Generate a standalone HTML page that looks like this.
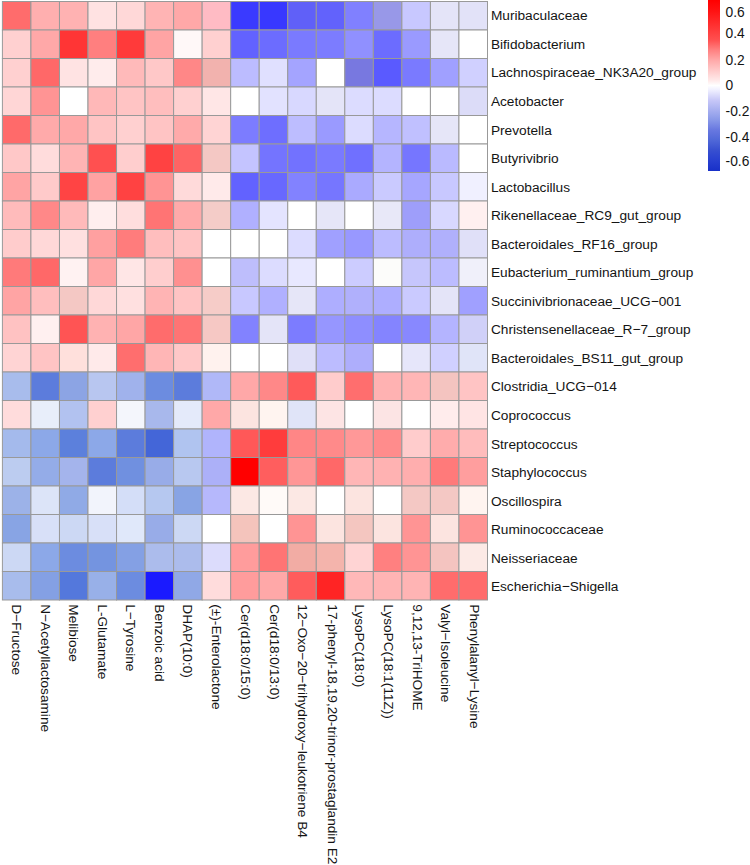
<!DOCTYPE html><html><head><meta charset="utf-8"><style>html,body{margin:0;padding:0;background:#fff;width:750px;height:865px;overflow:hidden}svg{display:block}text{font-family:"Liberation Sans",sans-serif;font-size:13.7px;fill:#141414}</style></head><body>
<svg width="750" height="865" viewBox="0 0 750 865">
<defs><linearGradient id="lg" x1="0" y1="0" x2="0" y2="1"><stop offset="0" stop-color="#FF0000"/><stop offset="0.058" stop-color="#FF1010"/><stop offset="0.146" stop-color="#FF3030"/><stop offset="0.234" stop-color="#FF5050"/><stop offset="0.292" stop-color="#FF8080"/><stop offset="0.351" stop-color="#FFA8A8"/><stop offset="0.409" stop-color="#FFC8C8"/><stop offset="0.468" stop-color="#FFE8E8"/><stop offset="0.5" stop-color="#FFFFFF"/><stop offset="0.526" stop-color="#F0F0FF"/><stop offset="0.585" stop-color="#C8C8F8"/><stop offset="0.643" stop-color="#A8B0F0"/><stop offset="0.702" stop-color="#8898E8"/><stop offset="0.76" stop-color="#6878E0"/><stop offset="0.819" stop-color="#5068D8"/><stop offset="0.877" stop-color="#3850D0"/><stop offset="0.936" stop-color="#2840D0"/><stop offset="1" stop-color="#1830C8"/></linearGradient></defs>
<rect x="2.40" y="1.50" width="28.535" height="28.500" fill="#FF6C6C" stroke="#999" stroke-width="1"/>
<rect x="30.93" y="1.50" width="28.535" height="28.500" fill="#FFAFAF" stroke="#999" stroke-width="1"/>
<rect x="59.47" y="1.50" width="28.535" height="28.500" fill="#FFB2B2" stroke="#999" stroke-width="1"/>
<rect x="88.01" y="1.50" width="28.535" height="28.500" fill="#FFE2E2" stroke="#999" stroke-width="1"/>
<rect x="116.54" y="1.50" width="28.535" height="28.500" fill="#FFD8D8" stroke="#999" stroke-width="1"/>
<rect x="145.08" y="1.50" width="28.535" height="28.500" fill="#FFB4B4" stroke="#999" stroke-width="1"/>
<rect x="173.61" y="1.50" width="28.535" height="28.500" fill="#FFA8A8" stroke="#999" stroke-width="1"/>
<rect x="202.15" y="1.50" width="28.535" height="28.500" fill="#FFBBC4" stroke="#999" stroke-width="1"/>
<rect x="230.68" y="1.50" width="28.535" height="28.500" fill="#3A3AFF" stroke="#999" stroke-width="1"/>
<rect x="259.21" y="1.50" width="28.535" height="28.500" fill="#3838FF" stroke="#999" stroke-width="1"/>
<rect x="287.75" y="1.50" width="28.535" height="28.500" fill="#6060F8" stroke="#999" stroke-width="1"/>
<rect x="316.28" y="1.50" width="28.535" height="28.500" fill="#6262FC" stroke="#999" stroke-width="1"/>
<rect x="344.82" y="1.50" width="28.535" height="28.500" fill="#8080FF" stroke="#999" stroke-width="1"/>
<rect x="373.35" y="1.50" width="28.535" height="28.500" fill="#9898E8" stroke="#999" stroke-width="1"/>
<rect x="401.89" y="1.50" width="28.535" height="28.500" fill="#C8C8FF" stroke="#999" stroke-width="1"/>
<rect x="430.42" y="1.50" width="28.535" height="28.500" fill="#E4E4F8" stroke="#999" stroke-width="1"/>
<rect x="458.96" y="1.50" width="28.535" height="28.500" fill="#E2E2F8" stroke="#999" stroke-width="1"/>
<rect x="2.40" y="30.00" width="28.535" height="28.500" fill="#FFD0D0" stroke="#999" stroke-width="1"/>
<rect x="30.93" y="30.00" width="28.535" height="28.500" fill="#FFA8A8" stroke="#999" stroke-width="1"/>
<rect x="59.47" y="30.00" width="28.535" height="28.500" fill="#FF3535" stroke="#999" stroke-width="1"/>
<rect x="88.01" y="30.00" width="28.535" height="28.500" fill="#FF7F7F" stroke="#999" stroke-width="1"/>
<rect x="116.54" y="30.00" width="28.535" height="28.500" fill="#FF3A3A" stroke="#999" stroke-width="1"/>
<rect x="145.08" y="30.00" width="28.535" height="28.500" fill="#FFA4A4" stroke="#999" stroke-width="1"/>
<rect x="173.61" y="30.00" width="28.535" height="28.500" fill="#FFF8F8" stroke="#999" stroke-width="1"/>
<rect x="202.15" y="30.00" width="28.535" height="28.500" fill="#FFD0D0" stroke="#999" stroke-width="1"/>
<rect x="230.68" y="30.00" width="28.535" height="28.500" fill="#6262FF" stroke="#999" stroke-width="1"/>
<rect x="259.21" y="30.00" width="28.535" height="28.500" fill="#6C6CFF" stroke="#999" stroke-width="1"/>
<rect x="287.75" y="30.00" width="28.535" height="28.500" fill="#7A7AFF" stroke="#999" stroke-width="1"/>
<rect x="316.28" y="30.00" width="28.535" height="28.500" fill="#7C7CFF" stroke="#999" stroke-width="1"/>
<rect x="344.82" y="30.00" width="28.535" height="28.500" fill="#9090FF" stroke="#999" stroke-width="1"/>
<rect x="373.35" y="30.00" width="28.535" height="28.500" fill="#6C6CFF" stroke="#999" stroke-width="1"/>
<rect x="401.89" y="30.00" width="28.535" height="28.500" fill="#9A9AFF" stroke="#999" stroke-width="1"/>
<rect x="430.42" y="30.00" width="28.535" height="28.500" fill="#E6E6F8" stroke="#999" stroke-width="1"/>
<rect x="458.96" y="30.00" width="28.535" height="28.500" fill="#FFFFFF" stroke="#999" stroke-width="1"/>
<rect x="2.40" y="58.50" width="28.535" height="28.500" fill="#FFD0D0" stroke="#999" stroke-width="1"/>
<rect x="30.93" y="58.50" width="28.535" height="28.500" fill="#FF6868" stroke="#999" stroke-width="1"/>
<rect x="59.47" y="58.50" width="28.535" height="28.500" fill="#FFE3E3" stroke="#999" stroke-width="1"/>
<rect x="88.01" y="58.50" width="28.535" height="28.500" fill="#FFECEC" stroke="#999" stroke-width="1"/>
<rect x="116.54" y="58.50" width="28.535" height="28.500" fill="#FFBABA" stroke="#999" stroke-width="1"/>
<rect x="145.08" y="58.50" width="28.535" height="28.500" fill="#FFC8C8" stroke="#999" stroke-width="1"/>
<rect x="173.61" y="58.50" width="28.535" height="28.500" fill="#FF8787" stroke="#999" stroke-width="1"/>
<rect x="202.15" y="58.50" width="28.535" height="28.500" fill="#F2B2AE" stroke="#999" stroke-width="1"/>
<rect x="230.68" y="58.50" width="28.535" height="28.500" fill="#BCBCFF" stroke="#999" stroke-width="1"/>
<rect x="259.21" y="58.50" width="28.535" height="28.500" fill="#E0E0FF" stroke="#999" stroke-width="1"/>
<rect x="287.75" y="58.50" width="28.535" height="28.500" fill="#A4A4FF" stroke="#999" stroke-width="1"/>
<rect x="316.28" y="58.50" width="28.535" height="28.500" fill="#FFFFFF" stroke="#999" stroke-width="1"/>
<rect x="344.82" y="58.50" width="28.535" height="28.500" fill="#7878E0" stroke="#999" stroke-width="1"/>
<rect x="373.35" y="58.50" width="28.535" height="28.500" fill="#5A5AFF" stroke="#999" stroke-width="1"/>
<rect x="401.89" y="58.50" width="28.535" height="28.500" fill="#7A7AFF" stroke="#999" stroke-width="1"/>
<rect x="430.42" y="58.50" width="28.535" height="28.500" fill="#A0A0FF" stroke="#999" stroke-width="1"/>
<rect x="458.96" y="58.50" width="28.535" height="28.500" fill="#D0D0FF" stroke="#999" stroke-width="1"/>
<rect x="2.40" y="87.00" width="28.535" height="28.500" fill="#FFD6D6" stroke="#999" stroke-width="1"/>
<rect x="30.93" y="87.00" width="28.535" height="28.500" fill="#FF9494" stroke="#999" stroke-width="1"/>
<rect x="59.47" y="87.00" width="28.535" height="28.500" fill="#FFFFFF" stroke="#999" stroke-width="1"/>
<rect x="88.01" y="87.00" width="28.535" height="28.500" fill="#FFB8B8" stroke="#999" stroke-width="1"/>
<rect x="116.54" y="87.00" width="28.535" height="28.500" fill="#FFC4C4" stroke="#999" stroke-width="1"/>
<rect x="145.08" y="87.00" width="28.535" height="28.500" fill="#FFBEBE" stroke="#999" stroke-width="1"/>
<rect x="173.61" y="87.00" width="28.535" height="28.500" fill="#FFD0D0" stroke="#999" stroke-width="1"/>
<rect x="202.15" y="87.00" width="28.535" height="28.500" fill="#FFE6E6" stroke="#999" stroke-width="1"/>
<rect x="230.68" y="87.00" width="28.535" height="28.500" fill="#FFFFFF" stroke="#999" stroke-width="1"/>
<rect x="259.21" y="87.00" width="28.535" height="28.500" fill="#E2E2FF" stroke="#999" stroke-width="1"/>
<rect x="287.75" y="87.00" width="28.535" height="28.500" fill="#D8D8FF" stroke="#999" stroke-width="1"/>
<rect x="316.28" y="87.00" width="28.535" height="28.500" fill="#E4E4F8" stroke="#999" stroke-width="1"/>
<rect x="344.82" y="87.00" width="28.535" height="28.500" fill="#DCDCFF" stroke="#999" stroke-width="1"/>
<rect x="373.35" y="87.00" width="28.535" height="28.500" fill="#DCDCFF" stroke="#999" stroke-width="1"/>
<rect x="401.89" y="87.00" width="28.535" height="28.500" fill="#FFFFFF" stroke="#999" stroke-width="1"/>
<rect x="430.42" y="87.00" width="28.535" height="28.500" fill="#FFFFFF" stroke="#999" stroke-width="1"/>
<rect x="458.96" y="87.00" width="28.535" height="28.500" fill="#DCDCF8" stroke="#999" stroke-width="1"/>
<rect x="2.40" y="115.50" width="28.535" height="28.500" fill="#FF6A6A" stroke="#999" stroke-width="1"/>
<rect x="30.93" y="115.50" width="28.535" height="28.500" fill="#FFAAAA" stroke="#999" stroke-width="1"/>
<rect x="59.47" y="115.50" width="28.535" height="28.500" fill="#FFA8A8" stroke="#999" stroke-width="1"/>
<rect x="88.01" y="115.50" width="28.535" height="28.500" fill="#FFC4C4" stroke="#999" stroke-width="1"/>
<rect x="116.54" y="115.50" width="28.535" height="28.500" fill="#FFD0D0" stroke="#999" stroke-width="1"/>
<rect x="145.08" y="115.50" width="28.535" height="28.500" fill="#FFC4C4" stroke="#999" stroke-width="1"/>
<rect x="173.61" y="115.50" width="28.535" height="28.500" fill="#FFAAAA" stroke="#999" stroke-width="1"/>
<rect x="202.15" y="115.50" width="28.535" height="28.500" fill="#FFD4D4" stroke="#999" stroke-width="1"/>
<rect x="230.68" y="115.50" width="28.535" height="28.500" fill="#7C7CFF" stroke="#999" stroke-width="1"/>
<rect x="259.21" y="115.50" width="28.535" height="28.500" fill="#6E6EFF" stroke="#999" stroke-width="1"/>
<rect x="287.75" y="115.50" width="28.535" height="28.500" fill="#BDBDFF" stroke="#999" stroke-width="1"/>
<rect x="316.28" y="115.50" width="28.535" height="28.500" fill="#9A9AFF" stroke="#999" stroke-width="1"/>
<rect x="344.82" y="115.50" width="28.535" height="28.500" fill="#DCDCFF" stroke="#999" stroke-width="1"/>
<rect x="373.35" y="115.50" width="28.535" height="28.500" fill="#B6B6FF" stroke="#999" stroke-width="1"/>
<rect x="401.89" y="115.50" width="28.535" height="28.500" fill="#C0C0FF" stroke="#999" stroke-width="1"/>
<rect x="430.42" y="115.50" width="28.535" height="28.500" fill="#E6E6F8" stroke="#999" stroke-width="1"/>
<rect x="458.96" y="115.50" width="28.535" height="28.500" fill="#FFFFFF" stroke="#999" stroke-width="1"/>
<rect x="2.40" y="144.00" width="28.535" height="28.500" fill="#FFC8C8" stroke="#999" stroke-width="1"/>
<rect x="30.93" y="144.00" width="28.535" height="28.500" fill="#FFDCDC" stroke="#999" stroke-width="1"/>
<rect x="59.47" y="144.00" width="28.535" height="28.500" fill="#FFB4B4" stroke="#999" stroke-width="1"/>
<rect x="88.01" y="144.00" width="28.535" height="28.500" fill="#FF5050" stroke="#999" stroke-width="1"/>
<rect x="116.54" y="144.00" width="28.535" height="28.500" fill="#FFCECE" stroke="#999" stroke-width="1"/>
<rect x="145.08" y="144.00" width="28.535" height="28.500" fill="#FF4242" stroke="#999" stroke-width="1"/>
<rect x="173.61" y="144.00" width="28.535" height="28.500" fill="#FF6464" stroke="#999" stroke-width="1"/>
<rect x="202.15" y="144.00" width="28.535" height="28.500" fill="#F4C8C4" stroke="#999" stroke-width="1"/>
<rect x="230.68" y="144.00" width="28.535" height="28.500" fill="#C4C4FF" stroke="#999" stroke-width="1"/>
<rect x="259.21" y="144.00" width="28.535" height="28.500" fill="#7474FF" stroke="#999" stroke-width="1"/>
<rect x="287.75" y="144.00" width="28.535" height="28.500" fill="#7272FF" stroke="#999" stroke-width="1"/>
<rect x="316.28" y="144.00" width="28.535" height="28.500" fill="#7A7AFF" stroke="#999" stroke-width="1"/>
<rect x="344.82" y="144.00" width="28.535" height="28.500" fill="#7070FF" stroke="#999" stroke-width="1"/>
<rect x="373.35" y="144.00" width="28.535" height="28.500" fill="#B4B4FF" stroke="#999" stroke-width="1"/>
<rect x="401.89" y="144.00" width="28.535" height="28.500" fill="#7676FF" stroke="#999" stroke-width="1"/>
<rect x="430.42" y="144.00" width="28.535" height="28.500" fill="#BABAFF" stroke="#999" stroke-width="1"/>
<rect x="458.96" y="144.00" width="28.535" height="28.500" fill="#FFFFFF" stroke="#999" stroke-width="1"/>
<rect x="2.40" y="172.50" width="28.535" height="28.500" fill="#FFA4A4" stroke="#999" stroke-width="1"/>
<rect x="30.93" y="172.50" width="28.535" height="28.500" fill="#FFCACA" stroke="#999" stroke-width="1"/>
<rect x="59.47" y="172.50" width="28.535" height="28.500" fill="#FF4444" stroke="#999" stroke-width="1"/>
<rect x="88.01" y="172.50" width="28.535" height="28.500" fill="#FFA2A2" stroke="#999" stroke-width="1"/>
<rect x="116.54" y="172.50" width="28.535" height="28.500" fill="#FF4242" stroke="#999" stroke-width="1"/>
<rect x="145.08" y="172.50" width="28.535" height="28.500" fill="#FF9494" stroke="#999" stroke-width="1"/>
<rect x="173.61" y="172.50" width="28.535" height="28.500" fill="#FFDADA" stroke="#999" stroke-width="1"/>
<rect x="202.15" y="172.50" width="28.535" height="28.500" fill="#FFEAEA" stroke="#999" stroke-width="1"/>
<rect x="230.68" y="172.50" width="28.535" height="28.500" fill="#6262FF" stroke="#999" stroke-width="1"/>
<rect x="259.21" y="172.50" width="28.535" height="28.500" fill="#6868FF" stroke="#999" stroke-width="1"/>
<rect x="287.75" y="172.50" width="28.535" height="28.500" fill="#8282FF" stroke="#999" stroke-width="1"/>
<rect x="316.28" y="172.50" width="28.535" height="28.500" fill="#7676FF" stroke="#999" stroke-width="1"/>
<rect x="344.82" y="172.50" width="28.535" height="28.500" fill="#AAAAFF" stroke="#999" stroke-width="1"/>
<rect x="373.35" y="172.50" width="28.535" height="28.500" fill="#CACAFF" stroke="#999" stroke-width="1"/>
<rect x="401.89" y="172.50" width="28.535" height="28.500" fill="#A6A6FF" stroke="#999" stroke-width="1"/>
<rect x="430.42" y="172.50" width="28.535" height="28.500" fill="#C8C8FF" stroke="#999" stroke-width="1"/>
<rect x="458.96" y="172.50" width="28.535" height="28.500" fill="#F0F0FF" stroke="#999" stroke-width="1"/>
<rect x="2.40" y="201.00" width="28.535" height="28.500" fill="#FFBBBB" stroke="#999" stroke-width="1"/>
<rect x="30.93" y="201.00" width="28.535" height="28.500" fill="#FF8888" stroke="#999" stroke-width="1"/>
<rect x="59.47" y="201.00" width="28.535" height="28.500" fill="#FFBABA" stroke="#999" stroke-width="1"/>
<rect x="88.01" y="201.00" width="28.535" height="28.500" fill="#FFEEEE" stroke="#999" stroke-width="1"/>
<rect x="116.54" y="201.00" width="28.535" height="28.500" fill="#FFDEDE" stroke="#999" stroke-width="1"/>
<rect x="145.08" y="201.00" width="28.535" height="28.500" fill="#FF7474" stroke="#999" stroke-width="1"/>
<rect x="173.61" y="201.00" width="28.535" height="28.500" fill="#FFAAAA" stroke="#999" stroke-width="1"/>
<rect x="202.15" y="201.00" width="28.535" height="28.500" fill="#F4CCC8" stroke="#999" stroke-width="1"/>
<rect x="230.68" y="201.00" width="28.535" height="28.500" fill="#B0B0FF" stroke="#999" stroke-width="1"/>
<rect x="259.21" y="201.00" width="28.535" height="28.500" fill="#E4E4FF" stroke="#999" stroke-width="1"/>
<rect x="287.75" y="201.00" width="28.535" height="28.500" fill="#FFFFFF" stroke="#999" stroke-width="1"/>
<rect x="316.28" y="201.00" width="28.535" height="28.500" fill="#E6E6F8" stroke="#999" stroke-width="1"/>
<rect x="344.82" y="201.00" width="28.535" height="28.500" fill="#FFFFFF" stroke="#999" stroke-width="1"/>
<rect x="373.35" y="201.00" width="28.535" height="28.500" fill="#E8E8F8" stroke="#999" stroke-width="1"/>
<rect x="401.89" y="201.00" width="28.535" height="28.500" fill="#9E9EFA" stroke="#999" stroke-width="1"/>
<rect x="430.42" y="201.00" width="28.535" height="28.500" fill="#D8D8FF" stroke="#999" stroke-width="1"/>
<rect x="458.96" y="201.00" width="28.535" height="28.500" fill="#FFF0F0" stroke="#999" stroke-width="1"/>
<rect x="2.40" y="229.50" width="28.535" height="28.500" fill="#FFCCCC" stroke="#999" stroke-width="1"/>
<rect x="30.93" y="229.50" width="28.535" height="28.500" fill="#FFD8D8" stroke="#999" stroke-width="1"/>
<rect x="59.47" y="229.50" width="28.535" height="28.500" fill="#FFE0E0" stroke="#999" stroke-width="1"/>
<rect x="88.01" y="229.50" width="28.535" height="28.500" fill="#FFA0A0" stroke="#999" stroke-width="1"/>
<rect x="116.54" y="229.50" width="28.535" height="28.500" fill="#FF7C7C" stroke="#999" stroke-width="1"/>
<rect x="145.08" y="229.50" width="28.535" height="28.500" fill="#FFBEBE" stroke="#999" stroke-width="1"/>
<rect x="173.61" y="229.50" width="28.535" height="28.500" fill="#FFC4C4" stroke="#999" stroke-width="1"/>
<rect x="202.15" y="229.50" width="28.535" height="28.500" fill="#FFFFFF" stroke="#999" stroke-width="1"/>
<rect x="230.68" y="229.50" width="28.535" height="28.500" fill="#FFFFFF" stroke="#999" stroke-width="1"/>
<rect x="259.21" y="229.50" width="28.535" height="28.500" fill="#FFFFFF" stroke="#999" stroke-width="1"/>
<rect x="287.75" y="229.50" width="28.535" height="28.500" fill="#DCDCFF" stroke="#999" stroke-width="1"/>
<rect x="316.28" y="229.50" width="28.535" height="28.500" fill="#A0A0FF" stroke="#999" stroke-width="1"/>
<rect x="344.82" y="229.50" width="28.535" height="28.500" fill="#9898FF" stroke="#999" stroke-width="1"/>
<rect x="373.35" y="229.50" width="28.535" height="28.500" fill="#BCBCFF" stroke="#999" stroke-width="1"/>
<rect x="401.89" y="229.50" width="28.535" height="28.500" fill="#AEAEFC" stroke="#999" stroke-width="1"/>
<rect x="430.42" y="229.50" width="28.535" height="28.500" fill="#B0B0FC" stroke="#999" stroke-width="1"/>
<rect x="458.96" y="229.50" width="28.535" height="28.500" fill="#E0E0F8" stroke="#999" stroke-width="1"/>
<rect x="2.40" y="258.00" width="28.535" height="28.500" fill="#FF7A7A" stroke="#999" stroke-width="1"/>
<rect x="30.93" y="258.00" width="28.535" height="28.500" fill="#FF6868" stroke="#999" stroke-width="1"/>
<rect x="59.47" y="258.00" width="28.535" height="28.500" fill="#FFF2F2" stroke="#999" stroke-width="1"/>
<rect x="88.01" y="258.00" width="28.535" height="28.500" fill="#FFA6A6" stroke="#999" stroke-width="1"/>
<rect x="116.54" y="258.00" width="28.535" height="28.500" fill="#FFE6E6" stroke="#999" stroke-width="1"/>
<rect x="145.08" y="258.00" width="28.535" height="28.500" fill="#FFCECE" stroke="#999" stroke-width="1"/>
<rect x="173.61" y="258.00" width="28.535" height="28.500" fill="#FF9090" stroke="#999" stroke-width="1"/>
<rect x="202.15" y="258.00" width="28.535" height="28.500" fill="#FFFFFF" stroke="#999" stroke-width="1"/>
<rect x="230.68" y="258.00" width="28.535" height="28.500" fill="#BEBEFC" stroke="#999" stroke-width="1"/>
<rect x="259.21" y="258.00" width="28.535" height="28.500" fill="#DCDCFF" stroke="#999" stroke-width="1"/>
<rect x="287.75" y="258.00" width="28.535" height="28.500" fill="#E8E8FF" stroke="#999" stroke-width="1"/>
<rect x="316.28" y="258.00" width="28.535" height="28.500" fill="#FFFFFF" stroke="#999" stroke-width="1"/>
<rect x="344.82" y="258.00" width="28.535" height="28.500" fill="#CCCCFF" stroke="#999" stroke-width="1"/>
<rect x="373.35" y="258.00" width="28.535" height="28.500" fill="#FCFCFA" stroke="#999" stroke-width="1"/>
<rect x="401.89" y="258.00" width="28.535" height="28.500" fill="#C6C6FC" stroke="#999" stroke-width="1"/>
<rect x="430.42" y="258.00" width="28.535" height="28.500" fill="#BCBCFF" stroke="#999" stroke-width="1"/>
<rect x="458.96" y="258.00" width="28.535" height="28.500" fill="#F0F0FA" stroke="#999" stroke-width="1"/>
<rect x="2.40" y="286.50" width="28.535" height="28.500" fill="#FFA4A4" stroke="#999" stroke-width="1"/>
<rect x="30.93" y="286.50" width="28.535" height="28.500" fill="#FFBEBE" stroke="#999" stroke-width="1"/>
<rect x="59.47" y="286.50" width="28.535" height="28.500" fill="#F4C8C4" stroke="#999" stroke-width="1"/>
<rect x="88.01" y="286.50" width="28.535" height="28.500" fill="#FFD8D8" stroke="#999" stroke-width="1"/>
<rect x="116.54" y="286.50" width="28.535" height="28.500" fill="#FFE0E0" stroke="#999" stroke-width="1"/>
<rect x="145.08" y="286.50" width="28.535" height="28.500" fill="#FFB4B4" stroke="#999" stroke-width="1"/>
<rect x="173.61" y="286.50" width="28.535" height="28.500" fill="#FFC4C4" stroke="#999" stroke-width="1"/>
<rect x="202.15" y="286.50" width="28.535" height="28.500" fill="#F6CCC8" stroke="#999" stroke-width="1"/>
<rect x="230.68" y="286.50" width="28.535" height="28.500" fill="#C8C8FF" stroke="#999" stroke-width="1"/>
<rect x="259.21" y="286.50" width="28.535" height="28.500" fill="#B0B0FF" stroke="#999" stroke-width="1"/>
<rect x="287.75" y="286.50" width="28.535" height="28.500" fill="#E6E6F8" stroke="#999" stroke-width="1"/>
<rect x="316.28" y="286.50" width="28.535" height="28.500" fill="#AEAEFF" stroke="#999" stroke-width="1"/>
<rect x="344.82" y="286.50" width="28.535" height="28.500" fill="#B0B0FC" stroke="#999" stroke-width="1"/>
<rect x="373.35" y="286.50" width="28.535" height="28.500" fill="#AEAEFF" stroke="#999" stroke-width="1"/>
<rect x="401.89" y="286.50" width="28.535" height="28.500" fill="#CACAFF" stroke="#999" stroke-width="1"/>
<rect x="430.42" y="286.50" width="28.535" height="28.500" fill="#E4E4F8" stroke="#999" stroke-width="1"/>
<rect x="458.96" y="286.50" width="28.535" height="28.500" fill="#A0A0FF" stroke="#999" stroke-width="1"/>
<rect x="2.40" y="315.00" width="28.535" height="28.500" fill="#FFC2C2" stroke="#999" stroke-width="1"/>
<rect x="30.93" y="315.00" width="28.535" height="28.500" fill="#FFF0F0" stroke="#999" stroke-width="1"/>
<rect x="59.47" y="315.00" width="28.535" height="28.500" fill="#FF5454" stroke="#999" stroke-width="1"/>
<rect x="88.01" y="315.00" width="28.535" height="28.500" fill="#FFB2B2" stroke="#999" stroke-width="1"/>
<rect x="116.54" y="315.00" width="28.535" height="28.500" fill="#FFA6A6" stroke="#999" stroke-width="1"/>
<rect x="145.08" y="315.00" width="28.535" height="28.500" fill="#FF6C6C" stroke="#999" stroke-width="1"/>
<rect x="173.61" y="315.00" width="28.535" height="28.500" fill="#FF7474" stroke="#999" stroke-width="1"/>
<rect x="202.15" y="315.00" width="28.535" height="28.500" fill="#F6C8C4" stroke="#999" stroke-width="1"/>
<rect x="230.68" y="315.00" width="28.535" height="28.500" fill="#8282FF" stroke="#999" stroke-width="1"/>
<rect x="259.21" y="315.00" width="28.535" height="28.500" fill="#E4E4F8" stroke="#999" stroke-width="1"/>
<rect x="287.75" y="315.00" width="28.535" height="28.500" fill="#7C7CFF" stroke="#999" stroke-width="1"/>
<rect x="316.28" y="315.00" width="28.535" height="28.500" fill="#9696FF" stroke="#999" stroke-width="1"/>
<rect x="344.82" y="315.00" width="28.535" height="28.500" fill="#8E8EFF" stroke="#999" stroke-width="1"/>
<rect x="373.35" y="315.00" width="28.535" height="28.500" fill="#8484FF" stroke="#999" stroke-width="1"/>
<rect x="401.89" y="315.00" width="28.535" height="28.500" fill="#8888FF" stroke="#999" stroke-width="1"/>
<rect x="430.42" y="315.00" width="28.535" height="28.500" fill="#B4B4FF" stroke="#999" stroke-width="1"/>
<rect x="458.96" y="315.00" width="28.535" height="28.500" fill="#D0D0F8" stroke="#999" stroke-width="1"/>
<rect x="2.40" y="343.50" width="28.535" height="28.500" fill="#FFD4D4" stroke="#999" stroke-width="1"/>
<rect x="30.93" y="343.50" width="28.535" height="28.500" fill="#FFC4C4" stroke="#999" stroke-width="1"/>
<rect x="59.47" y="343.50" width="28.535" height="28.500" fill="#FFE0DC" stroke="#999" stroke-width="1"/>
<rect x="88.01" y="343.50" width="28.535" height="28.500" fill="#FFEAEA" stroke="#999" stroke-width="1"/>
<rect x="116.54" y="343.50" width="28.535" height="28.500" fill="#FF6E6E" stroke="#999" stroke-width="1"/>
<rect x="145.08" y="343.50" width="28.535" height="28.500" fill="#FFB6B6" stroke="#999" stroke-width="1"/>
<rect x="173.61" y="343.50" width="28.535" height="28.500" fill="#FFC8C8" stroke="#999" stroke-width="1"/>
<rect x="202.15" y="343.50" width="28.535" height="28.500" fill="#FFF2EE" stroke="#999" stroke-width="1"/>
<rect x="230.68" y="343.50" width="28.535" height="28.500" fill="#FFFFFF" stroke="#999" stroke-width="1"/>
<rect x="259.21" y="343.50" width="28.535" height="28.500" fill="#FFFFFF" stroke="#999" stroke-width="1"/>
<rect x="287.75" y="343.50" width="28.535" height="28.500" fill="#E0E0F8" stroke="#999" stroke-width="1"/>
<rect x="316.28" y="343.50" width="28.535" height="28.500" fill="#BCBCFF" stroke="#999" stroke-width="1"/>
<rect x="344.82" y="343.50" width="28.535" height="28.500" fill="#AEAEFC" stroke="#999" stroke-width="1"/>
<rect x="373.35" y="343.50" width="28.535" height="28.500" fill="#FFFFFF" stroke="#999" stroke-width="1"/>
<rect x="401.89" y="343.50" width="28.535" height="28.500" fill="#E6E6FA" stroke="#999" stroke-width="1"/>
<rect x="430.42" y="343.50" width="28.535" height="28.500" fill="#D0D0FF" stroke="#999" stroke-width="1"/>
<rect x="458.96" y="343.50" width="28.535" height="28.500" fill="#E0E4F8" stroke="#999" stroke-width="1"/>
<rect x="2.40" y="372.00" width="28.535" height="28.500" fill="#A8BCEC" stroke="#999" stroke-width="1"/>
<rect x="30.93" y="372.00" width="28.535" height="28.500" fill="#5C7CDC" stroke="#999" stroke-width="1"/>
<rect x="59.47" y="372.00" width="28.535" height="28.500" fill="#8CA4E4" stroke="#999" stroke-width="1"/>
<rect x="88.01" y="372.00" width="28.535" height="28.500" fill="#B8C6F0" stroke="#999" stroke-width="1"/>
<rect x="116.54" y="372.00" width="28.535" height="28.500" fill="#A0B2EC" stroke="#999" stroke-width="1"/>
<rect x="145.08" y="372.00" width="28.535" height="28.500" fill="#6C8CE0" stroke="#999" stroke-width="1"/>
<rect x="173.61" y="372.00" width="28.535" height="28.500" fill="#5C7CDC" stroke="#999" stroke-width="1"/>
<rect x="202.15" y="372.00" width="28.535" height="28.500" fill="#B0B8F8" stroke="#999" stroke-width="1"/>
<rect x="230.68" y="372.00" width="28.535" height="28.500" fill="#FFA8A8" stroke="#999" stroke-width="1"/>
<rect x="259.21" y="372.00" width="28.535" height="28.500" fill="#FF8888" stroke="#999" stroke-width="1"/>
<rect x="287.75" y="372.00" width="28.535" height="28.500" fill="#FF5A5A" stroke="#999" stroke-width="1"/>
<rect x="316.28" y="372.00" width="28.535" height="28.500" fill="#FFCCCC" stroke="#999" stroke-width="1"/>
<rect x="344.82" y="372.00" width="28.535" height="28.500" fill="#FF6E6E" stroke="#999" stroke-width="1"/>
<rect x="373.35" y="372.00" width="28.535" height="28.500" fill="#FFB2B2" stroke="#999" stroke-width="1"/>
<rect x="401.89" y="372.00" width="28.535" height="28.500" fill="#FFB6B6" stroke="#999" stroke-width="1"/>
<rect x="430.42" y="372.00" width="28.535" height="28.500" fill="#F4C4C0" stroke="#999" stroke-width="1"/>
<rect x="458.96" y="372.00" width="28.535" height="28.500" fill="#FFC4C4" stroke="#999" stroke-width="1"/>
<rect x="2.40" y="400.50" width="28.535" height="28.500" fill="#FFDCDC" stroke="#999" stroke-width="1"/>
<rect x="30.93" y="400.50" width="28.535" height="28.500" fill="#E8EEFA" stroke="#999" stroke-width="1"/>
<rect x="59.47" y="400.50" width="28.535" height="28.500" fill="#B2C2F0" stroke="#999" stroke-width="1"/>
<rect x="88.01" y="400.50" width="28.535" height="28.500" fill="#FFD0D0" stroke="#999" stroke-width="1"/>
<rect x="116.54" y="400.50" width="28.535" height="28.500" fill="#F4F6FC" stroke="#999" stroke-width="1"/>
<rect x="145.08" y="400.50" width="28.535" height="28.500" fill="#A8B8EC" stroke="#999" stroke-width="1"/>
<rect x="173.61" y="400.50" width="28.535" height="28.500" fill="#E4EAFA" stroke="#999" stroke-width="1"/>
<rect x="202.15" y="400.50" width="28.535" height="28.500" fill="#FFA8A8" stroke="#999" stroke-width="1"/>
<rect x="230.68" y="400.50" width="28.535" height="28.500" fill="#FCE4E0" stroke="#999" stroke-width="1"/>
<rect x="259.21" y="400.50" width="28.535" height="28.500" fill="#FFF4F0" stroke="#999" stroke-width="1"/>
<rect x="287.75" y="400.50" width="28.535" height="28.500" fill="#E0E4F8" stroke="#999" stroke-width="1"/>
<rect x="316.28" y="400.50" width="28.535" height="28.500" fill="#FDE4E4" stroke="#999" stroke-width="1"/>
<rect x="344.82" y="400.50" width="28.535" height="28.500" fill="#FFFFFF" stroke="#999" stroke-width="1"/>
<rect x="373.35" y="400.50" width="28.535" height="28.500" fill="#FCE4E4" stroke="#999" stroke-width="1"/>
<rect x="401.89" y="400.50" width="28.535" height="28.500" fill="#FFFFFF" stroke="#999" stroke-width="1"/>
<rect x="430.42" y="400.50" width="28.535" height="28.500" fill="#FFECEC" stroke="#999" stroke-width="1"/>
<rect x="458.96" y="400.50" width="28.535" height="28.500" fill="#FFE4E4" stroke="#999" stroke-width="1"/>
<rect x="2.40" y="429.00" width="28.535" height="28.500" fill="#A4BAEC" stroke="#999" stroke-width="1"/>
<rect x="30.93" y="429.00" width="28.535" height="28.500" fill="#8CA8E8" stroke="#999" stroke-width="1"/>
<rect x="59.47" y="429.00" width="28.535" height="28.500" fill="#5C80DC" stroke="#999" stroke-width="1"/>
<rect x="88.01" y="429.00" width="28.535" height="28.500" fill="#8CA8E8" stroke="#999" stroke-width="1"/>
<rect x="116.54" y="429.00" width="28.535" height="28.500" fill="#5C7CDC" stroke="#999" stroke-width="1"/>
<rect x="145.08" y="429.00" width="28.535" height="28.500" fill="#4466D8" stroke="#999" stroke-width="1"/>
<rect x="173.61" y="429.00" width="28.535" height="28.500" fill="#B0C4F0" stroke="#999" stroke-width="1"/>
<rect x="202.15" y="429.00" width="28.535" height="28.500" fill="#B0B4FC" stroke="#999" stroke-width="1"/>
<rect x="230.68" y="429.00" width="28.535" height="28.500" fill="#FF5858" stroke="#999" stroke-width="1"/>
<rect x="259.21" y="429.00" width="28.535" height="28.500" fill="#FF3C3C" stroke="#999" stroke-width="1"/>
<rect x="287.75" y="429.00" width="28.535" height="28.500" fill="#FF8686" stroke="#999" stroke-width="1"/>
<rect x="316.28" y="429.00" width="28.535" height="28.500" fill="#FF8A8A" stroke="#999" stroke-width="1"/>
<rect x="344.82" y="429.00" width="28.535" height="28.500" fill="#FF9898" stroke="#999" stroke-width="1"/>
<rect x="373.35" y="429.00" width="28.535" height="28.500" fill="#FF8C8C" stroke="#999" stroke-width="1"/>
<rect x="401.89" y="429.00" width="28.535" height="28.500" fill="#FFCCCC" stroke="#999" stroke-width="1"/>
<rect x="430.42" y="429.00" width="28.535" height="28.500" fill="#FFACAC" stroke="#999" stroke-width="1"/>
<rect x="458.96" y="429.00" width="28.535" height="28.500" fill="#FFBCBC" stroke="#999" stroke-width="1"/>
<rect x="2.40" y="457.50" width="28.535" height="28.500" fill="#BCCCF0" stroke="#999" stroke-width="1"/>
<rect x="30.93" y="457.50" width="28.535" height="28.500" fill="#94ACE8" stroke="#999" stroke-width="1"/>
<rect x="59.47" y="457.50" width="28.535" height="28.500" fill="#A4B4EC" stroke="#999" stroke-width="1"/>
<rect x="88.01" y="457.50" width="28.535" height="28.500" fill="#5C7CDC" stroke="#999" stroke-width="1"/>
<rect x="116.54" y="457.50" width="28.535" height="28.500" fill="#7090E0" stroke="#999" stroke-width="1"/>
<rect x="145.08" y="457.50" width="28.535" height="28.500" fill="#98ACE8" stroke="#999" stroke-width="1"/>
<rect x="173.61" y="457.50" width="28.535" height="28.500" fill="#B8C8F0" stroke="#999" stroke-width="1"/>
<rect x="202.15" y="457.50" width="28.535" height="28.500" fill="#ACB0F8" stroke="#999" stroke-width="1"/>
<rect x="230.68" y="457.50" width="28.535" height="28.500" fill="#FF0000" stroke="#999" stroke-width="1"/>
<rect x="259.21" y="457.50" width="28.535" height="28.500" fill="#FF5E5E" stroke="#999" stroke-width="1"/>
<rect x="287.75" y="457.50" width="28.535" height="28.500" fill="#FF9696" stroke="#999" stroke-width="1"/>
<rect x="316.28" y="457.50" width="28.535" height="28.500" fill="#FF6868" stroke="#999" stroke-width="1"/>
<rect x="344.82" y="457.50" width="28.535" height="28.500" fill="#FFB6B6" stroke="#999" stroke-width="1"/>
<rect x="373.35" y="457.50" width="28.535" height="28.500" fill="#FFB2B2" stroke="#999" stroke-width="1"/>
<rect x="401.89" y="457.50" width="28.535" height="28.500" fill="#FFAEAE" stroke="#999" stroke-width="1"/>
<rect x="430.42" y="457.50" width="28.535" height="28.500" fill="#FF7A7A" stroke="#999" stroke-width="1"/>
<rect x="458.96" y="457.50" width="28.535" height="28.500" fill="#FF9E9E" stroke="#999" stroke-width="1"/>
<rect x="2.40" y="486.00" width="28.535" height="28.500" fill="#9CB2E8" stroke="#999" stroke-width="1"/>
<rect x="30.93" y="486.00" width="28.535" height="28.500" fill="#DCE4F8" stroke="#999" stroke-width="1"/>
<rect x="59.47" y="486.00" width="28.535" height="28.500" fill="#90AAE6" stroke="#999" stroke-width="1"/>
<rect x="88.01" y="486.00" width="28.535" height="28.500" fill="#F2F4FC" stroke="#999" stroke-width="1"/>
<rect x="116.54" y="486.00" width="28.535" height="28.500" fill="#D4DEF8" stroke="#999" stroke-width="1"/>
<rect x="145.08" y="486.00" width="28.535" height="28.500" fill="#B6C8F0" stroke="#999" stroke-width="1"/>
<rect x="173.61" y="486.00" width="28.535" height="28.500" fill="#88A4E4" stroke="#999" stroke-width="1"/>
<rect x="202.15" y="486.00" width="28.535" height="28.500" fill="#B6B8FC" stroke="#999" stroke-width="1"/>
<rect x="230.68" y="486.00" width="28.535" height="28.500" fill="#FCE8E4" stroke="#999" stroke-width="1"/>
<rect x="259.21" y="486.00" width="28.535" height="28.500" fill="#FFFAF8" stroke="#999" stroke-width="1"/>
<rect x="287.75" y="486.00" width="28.535" height="28.500" fill="#FCE8E4" stroke="#999" stroke-width="1"/>
<rect x="316.28" y="486.00" width="28.535" height="28.500" fill="#FFFFFF" stroke="#999" stroke-width="1"/>
<rect x="344.82" y="486.00" width="28.535" height="28.500" fill="#FCE4E0" stroke="#999" stroke-width="1"/>
<rect x="373.35" y="486.00" width="28.535" height="28.500" fill="#FFFFFF" stroke="#999" stroke-width="1"/>
<rect x="401.89" y="486.00" width="28.535" height="28.500" fill="#F4C8C4" stroke="#999" stroke-width="1"/>
<rect x="430.42" y="486.00" width="28.535" height="28.500" fill="#F4C8C4" stroke="#999" stroke-width="1"/>
<rect x="458.96" y="486.00" width="28.535" height="28.500" fill="#FFF4F0" stroke="#999" stroke-width="1"/>
<rect x="2.40" y="514.50" width="28.535" height="28.500" fill="#88A4E4" stroke="#999" stroke-width="1"/>
<rect x="30.93" y="514.50" width="28.535" height="28.500" fill="#D8E0F8" stroke="#999" stroke-width="1"/>
<rect x="59.47" y="514.50" width="28.535" height="28.500" fill="#CCD8F4" stroke="#999" stroke-width="1"/>
<rect x="88.01" y="514.50" width="28.535" height="28.500" fill="#D8E0F8" stroke="#999" stroke-width="1"/>
<rect x="116.54" y="514.50" width="28.535" height="28.500" fill="#E0E8FA" stroke="#999" stroke-width="1"/>
<rect x="145.08" y="514.50" width="28.535" height="28.500" fill="#98ACE8" stroke="#999" stroke-width="1"/>
<rect x="173.61" y="514.50" width="28.535" height="28.500" fill="#CCD8F4" stroke="#999" stroke-width="1"/>
<rect x="202.15" y="514.50" width="28.535" height="28.500" fill="#FFFFFF" stroke="#999" stroke-width="1"/>
<rect x="230.68" y="514.50" width="28.535" height="28.500" fill="#F4C4BC" stroke="#999" stroke-width="1"/>
<rect x="259.21" y="514.50" width="28.535" height="28.500" fill="#FFFFFF" stroke="#999" stroke-width="1"/>
<rect x="287.75" y="514.50" width="28.535" height="28.500" fill="#FF9494" stroke="#999" stroke-width="1"/>
<rect x="316.28" y="514.50" width="28.535" height="28.500" fill="#FCE4E0" stroke="#999" stroke-width="1"/>
<rect x="344.82" y="514.50" width="28.535" height="28.500" fill="#F4C6C0" stroke="#999" stroke-width="1"/>
<rect x="373.35" y="514.50" width="28.535" height="28.500" fill="#FCE4E0" stroke="#999" stroke-width="1"/>
<rect x="401.89" y="514.50" width="28.535" height="28.500" fill="#FF9494" stroke="#999" stroke-width="1"/>
<rect x="430.42" y="514.50" width="28.535" height="28.500" fill="#FCE4E0" stroke="#999" stroke-width="1"/>
<rect x="458.96" y="514.50" width="28.535" height="28.500" fill="#FF9494" stroke="#999" stroke-width="1"/>
<rect x="2.40" y="543.00" width="28.535" height="28.500" fill="#CCD8F4" stroke="#999" stroke-width="1"/>
<rect x="30.93" y="543.00" width="28.535" height="28.500" fill="#8CA8E8" stroke="#999" stroke-width="1"/>
<rect x="59.47" y="543.00" width="28.535" height="28.500" fill="#6C8CE0" stroke="#999" stroke-width="1"/>
<rect x="88.01" y="543.00" width="28.535" height="28.500" fill="#7494E0" stroke="#999" stroke-width="1"/>
<rect x="116.54" y="543.00" width="28.535" height="28.500" fill="#84A0E4" stroke="#999" stroke-width="1"/>
<rect x="145.08" y="543.00" width="28.535" height="28.500" fill="#ACBCEC" stroke="#999" stroke-width="1"/>
<rect x="173.61" y="543.00" width="28.535" height="28.500" fill="#ACBCEC" stroke="#999" stroke-width="1"/>
<rect x="202.15" y="543.00" width="28.535" height="28.500" fill="#DCDCFC" stroke="#999" stroke-width="1"/>
<rect x="230.68" y="543.00" width="28.535" height="28.500" fill="#FF9C9C" stroke="#999" stroke-width="1"/>
<rect x="259.21" y="543.00" width="28.535" height="28.500" fill="#FF7474" stroke="#999" stroke-width="1"/>
<rect x="287.75" y="543.00" width="28.535" height="28.500" fill="#F2ACA4" stroke="#999" stroke-width="1"/>
<rect x="316.28" y="543.00" width="28.535" height="28.500" fill="#F4B4AC" stroke="#999" stroke-width="1"/>
<rect x="344.82" y="543.00" width="28.535" height="28.500" fill="#FFD4D4" stroke="#999" stroke-width="1"/>
<rect x="373.35" y="543.00" width="28.535" height="28.500" fill="#FF8080" stroke="#999" stroke-width="1"/>
<rect x="401.89" y="543.00" width="28.535" height="28.500" fill="#FF9494" stroke="#999" stroke-width="1"/>
<rect x="430.42" y="543.00" width="28.535" height="28.500" fill="#F4C4C0" stroke="#999" stroke-width="1"/>
<rect x="458.96" y="543.00" width="28.535" height="28.500" fill="#FCEAE6" stroke="#999" stroke-width="1"/>
<rect x="2.40" y="571.50" width="28.535" height="28.500" fill="#A8BCEC" stroke="#999" stroke-width="1"/>
<rect x="30.93" y="571.50" width="28.535" height="28.500" fill="#84A0E4" stroke="#999" stroke-width="1"/>
<rect x="59.47" y="571.50" width="28.535" height="28.500" fill="#5478DC" stroke="#999" stroke-width="1"/>
<rect x="88.01" y="571.50" width="28.535" height="28.500" fill="#98B0E8" stroke="#999" stroke-width="1"/>
<rect x="116.54" y="571.50" width="28.535" height="28.500" fill="#6C8CE0" stroke="#999" stroke-width="1"/>
<rect x="145.08" y="571.50" width="28.535" height="28.500" fill="#1A1AFF" stroke="#999" stroke-width="1"/>
<rect x="173.61" y="571.50" width="28.535" height="28.500" fill="#90A8E6" stroke="#999" stroke-width="1"/>
<rect x="202.15" y="571.50" width="28.535" height="28.500" fill="#FFDCDC" stroke="#999" stroke-width="1"/>
<rect x="230.68" y="571.50" width="28.535" height="28.500" fill="#FF9C9C" stroke="#999" stroke-width="1"/>
<rect x="259.21" y="571.50" width="28.535" height="28.500" fill="#FFA8A8" stroke="#999" stroke-width="1"/>
<rect x="287.75" y="571.50" width="28.535" height="28.500" fill="#FF5C5C" stroke="#999" stroke-width="1"/>
<rect x="316.28" y="571.50" width="28.535" height="28.500" fill="#FF2424" stroke="#999" stroke-width="1"/>
<rect x="344.82" y="571.50" width="28.535" height="28.500" fill="#FFB8B8" stroke="#999" stroke-width="1"/>
<rect x="373.35" y="571.50" width="28.535" height="28.500" fill="#FFB4B4" stroke="#999" stroke-width="1"/>
<rect x="401.89" y="571.50" width="28.535" height="28.500" fill="#FFB4B4" stroke="#999" stroke-width="1"/>
<rect x="430.42" y="571.50" width="28.535" height="28.500" fill="#FF6C6C" stroke="#999" stroke-width="1"/>
<rect x="458.96" y="571.50" width="28.535" height="28.500" fill="#FF6C6C" stroke="#999" stroke-width="1"/>
<text x="490.9" y="20.30">Muribaculaceae</text>
<text x="490.9" y="48.85">Bifidobacterium</text>
<text x="490.9" y="77.40">Lachnospiraceae_NK3A20_group</text>
<text x="490.9" y="105.95">Acetobacter</text>
<text x="490.9" y="134.50">Prevotella</text>
<text x="490.9" y="163.05">Butyrivibrio</text>
<text x="490.9" y="191.60">Lactobacillus</text>
<text x="490.9" y="220.15">Rikenellaceae_RC9_gut_group</text>
<text x="490.9" y="248.70">Bacteroidales_RF16_group</text>
<text x="490.9" y="277.25">Eubacterium_ruminantium_group</text>
<text x="490.9" y="305.80">Succinivibrionaceae_UCG−001</text>
<text x="490.9" y="334.35">Christensenellaceae_R−7_group</text>
<text x="490.9" y="362.90">Bacteroidales_BS11_gut_group</text>
<text x="490.9" y="391.45">Clostridia_UCG−014</text>
<text x="490.9" y="420.00">Coprococcus</text>
<text x="490.9" y="448.55">Streptococcus</text>
<text x="490.9" y="477.10">Staphylococcus</text>
<text x="490.9" y="505.65">Oscillospira</text>
<text x="490.9" y="534.20">Ruminococcaceae</text>
<text x="490.9" y="562.75">Neisseriaceae</text>
<text x="490.9" y="591.30">Escherichia−Shigella</text>
<text transform="translate(12.27,604.3) rotate(90)" x="0" y="0" style="font-size:13.65px">D−Fructose</text>
<text transform="translate(40.80,604.3) rotate(90)" x="0" y="0" style="font-size:13.65px">N−Acetyllactosamine</text>
<text transform="translate(69.34,604.3) rotate(90)" x="0" y="0" style="font-size:13.65px">Melibiose</text>
<text transform="translate(97.87,604.3) rotate(90)" x="0" y="0" style="font-size:13.65px">L-Glutamate</text>
<text transform="translate(126.41,604.3) rotate(90)" x="0" y="0" style="font-size:13.65px">L−Tyrosine</text>
<text transform="translate(154.84,604.3) rotate(90)" x="0" y="0" style="font-size:13.65px">Benzoic acid</text>
<text transform="translate(183.48,604.3) rotate(90)" x="0" y="0" style="font-size:13.65px">DHAP(10:0)</text>
<text transform="translate(212.01,604.3) rotate(90)" x="0" y="0" style="font-size:13.65px">(±)-Enterolactone</text>
<text transform="translate(241.35,604.3) rotate(90)" x="0" y="0" style="font-size:13.65px">Cer(d18:0/15:0)</text>
<text transform="translate(269.78,604.3) rotate(90)" x="0" y="0" style="font-size:13.65px">Cer(d18:0/13:0)</text>
<text transform="translate(298.42,604.3) rotate(90)" x="0" y="0" style="font-size:13.65px">12−Oxo−20−trihydroxy−leukotriene B4</text>
<text transform="translate(328.35,604.3) rotate(90)" x="0" y="0" style="font-size:13.65px">17-phenyl-18,19,20-trinor-prostaglandin E2</text>
<text transform="translate(355.49,604.3) rotate(90)" x="0" y="0" style="font-size:13.65px">LysoPC(18:0)</text>
<text transform="translate(384.42,604.3) rotate(90)" x="0" y="0" style="font-size:13.65px">LysoPC(18:1(11Z))</text>
<text transform="translate(412.56,604.3) rotate(90)" x="0" y="0" style="font-size:13.65px">9,12,13-TriHOME</text>
<text transform="translate(441.09,604.3) rotate(90)" x="0" y="0" style="font-size:13.65px">Valyl−Isoleucine</text>
<text transform="translate(469.63,604.3) rotate(90)" x="0" y="0" style="font-size:13.65px">Phenylalanyl−Lysine</text>
<rect x="708" y="0" width="12" height="171" fill="url(#lg)"/>
<text x="725.6" y="16.70" style="font-size:13.8px">0.6</text>
<text x="725.6" y="38.20" style="font-size:13.8px">0.4</text>
<text x="725.6" y="64.90" style="font-size:13.8px">0.2</text>
<text x="725.6" y="89.90" style="font-size:13.8px">0</text>
<text x="725.6" y="115.90" style="font-size:13.8px">-0.2</text>
<text x="725.6" y="141.90" style="font-size:13.8px">-0.4</text>
<text x="725.6" y="165.70" style="font-size:13.8px">-0.6</text>
</svg></body></html>
